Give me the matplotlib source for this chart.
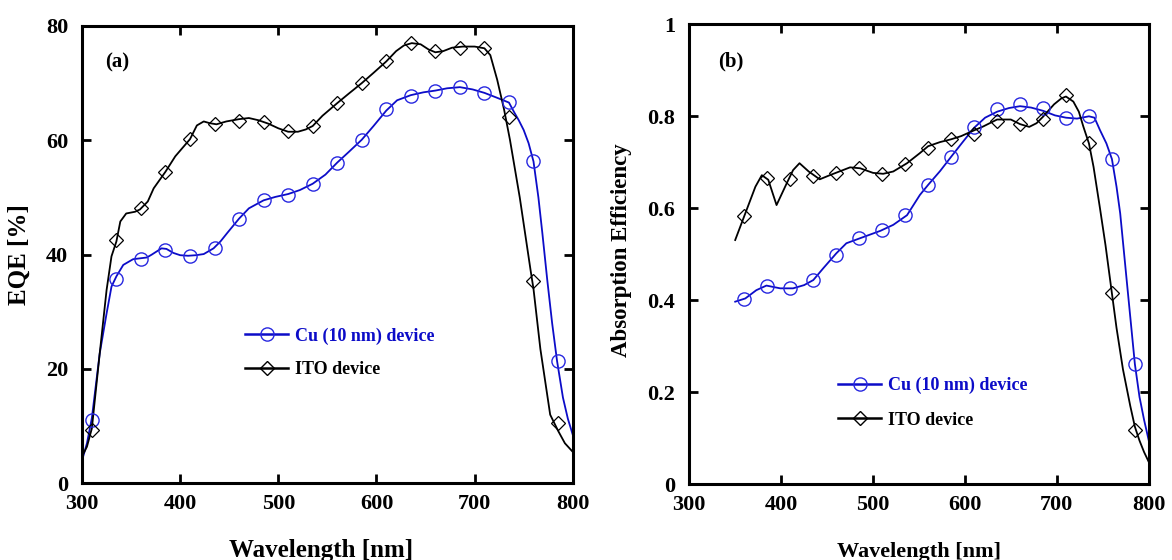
import numpy as np
import matplotlib
matplotlib.use("Agg")
from matplotlib import pyplot as plt
from matplotlib.ticker import FormatStrFormatter

plt.rcParams['font.family'] = ['Liberation Serif', 'DejaVu Serif']
plt.rcParams['font.weight'] = 'bold'

BLUE = '#0c0cc8'
BLUE_MK = '#2828e0'

# ---- panel (a): EQE ----
# measured points (markers)
wl_pts_a = [310, 335, 360, 385, 410, 435, 460, 485, 510, 535,
            560, 585, 610, 635, 660, 685, 710, 735, 760, 785]
cu_eqe_pts = [11.0, 35.8, 39.2, 40.8, 39.8, 41.1, 46.3, 49.5, 50.5, 52.3,
              56.1, 60.0, 65.5, 67.7, 68.6, 69.4, 68.3, 66.7, 56.3, 21.4]
ito_eqe_pts = [9.4, 42.5, 48.1, 54.5, 60.2, 62.8, 63.4, 63.2, 61.7, 62.5,
               66.5, 70.0, 73.8, 77.1, 75.7, 76.1, 76.1, 64.0, 35.3, 10.6]

# smooth curves
wl_cu_a = [300, 305, 310, 318, 325, 330, 335, 342, 352, 366, 371, 381, 386, 393,
           400, 408, 416, 424, 434, 441, 448, 460, 470, 485, 497, 510, 522, 535,
           548, 560, 572, 585, 597, 610, 621, 635, 648, 660, 672, 685, 698, 710,
           722, 735, 740, 745, 750, 755, 760, 765, 769, 774, 779, 784, 790, 795, 800]
cu_eqe = [4.0, 7.0, 11.4, 22.7, 29.7, 34.4, 36.2, 38.2, 39.2, 39.5, 40.0, 41.1, 41.0, 40.3,
          39.9, 39.8, 39.9, 40.1, 41.1, 42.3, 43.8, 46.3, 48.1, 49.5, 50.1, 50.6, 51.3, 52.4,
          54.0, 56.1, 58.0, 60.1, 62.5, 65.2, 67.0, 67.9, 68.4, 68.7, 69.1, 69.3, 68.9, 68.3,
          67.5, 66.6, 65.0, 63.5, 61.8, 59.5, 56.3, 50.0, 43.8, 35.6, 28.0, 21.4, 15.0, 11.3, 8.5]

wl_ito_a = [300, 305, 310, 318, 325, 330, 335, 339, 345, 354, 359, 367, 373, 385,
            395, 410, 417, 424, 430, 437, 447, 460, 470, 480, 490, 500, 510, 520,
            528, 535, 545, 560, 572, 585, 597, 610, 620, 628, 636, 645, 653, 660,
            668, 677, 688, 700, 710, 716, 723, 730, 736, 746, 757, 760, 767, 777,
            785, 792, 800]
ito_eqe = [4.7, 6.4, 9.6, 22.7, 33.8, 39.7, 42.3, 45.8, 47.2, 47.5, 47.9, 49.3, 51.6, 54.5,
           57.2, 60.2, 62.6, 63.3, 63.0, 62.8, 63.3, 63.7, 63.9, 63.5, 62.9, 62.1, 61.5, 61.5,
           61.9, 62.5, 64.3, 66.5, 68.2, 70.0, 71.8, 73.8, 75.6, 76.6, 77.0, 76.8, 75.9, 75.4,
           75.6, 76.2, 76.4, 76.4, 76.1, 74.9, 70.6, 65.4, 60.1, 50.0, 37.3, 34.0, 23.5, 12.0,
           9.2, 7.0, 5.5]

# ---- panel (b): absorption efficiency ----
wl_pts_b = [360, 385, 410, 435, 460, 485, 510, 535, 560, 585,
            610, 635, 660, 685, 710, 735, 760, 785]
cu_abs_pts = [0.403, 0.431, 0.426, 0.445, 0.498, 0.535, 0.553, 0.585, 0.651, 0.712,
              0.777, 0.815, 0.826, 0.817, 0.797, 0.800, 0.707, 0.261]
ito_abs_pts = [0.584, 0.665, 0.664, 0.671, 0.676, 0.687, 0.675, 0.696, 0.732, 0.750,
               0.761, 0.790, 0.783, 0.794, 0.846, 0.741, 0.415, 0.118]

wl_cu_b = [350, 361, 373, 384, 399, 413, 425, 435, 446, 460, 471, 486, 508, 522,
           537, 551, 560, 573, 585, 598, 610, 622, 635, 648, 660, 672, 685, 698,
           710, 722, 735, 741, 747, 754, 760, 765, 769, 776, 785, 790, 795, 800]
cu_abs = [0.397, 0.404, 0.422, 0.432, 0.426, 0.426, 0.433, 0.444, 0.470, 0.502, 0.524,
          0.535, 0.551, 0.564, 0.585, 0.629, 0.651, 0.681, 0.712, 0.745, 0.775, 0.797,
          0.810, 0.818, 0.822, 0.819, 0.812, 0.802, 0.797, 0.795, 0.800, 0.797, 0.770,
          0.741, 0.707, 0.647, 0.589, 0.445, 0.261, 0.190, 0.140, 0.096]

wl_ito_b = [350, 361, 372, 379, 386, 395, 406, 413, 420, 430, 442, 453, 475, 486,
            500, 511, 522, 537, 551, 560, 573, 585, 596, 606, 620, 635, 650, 660,
            670, 678, 685, 697, 705, 710, 718, 724, 729, 735, 740, 747, 753, 758,
            765, 772, 780, 785, 790, 795, 800]
ito_abs = [0.531, 0.589, 0.647, 0.672, 0.662, 0.607, 0.654, 0.683, 0.698, 0.680, 0.663,
           0.672, 0.689, 0.687, 0.677, 0.675, 0.680, 0.698, 0.720, 0.735, 0.744, 0.750,
           0.757, 0.766, 0.778, 0.793, 0.793, 0.783, 0.777, 0.785, 0.799, 0.826, 0.839,
           0.843, 0.832, 0.810, 0.777, 0.741, 0.690, 0.600, 0.520, 0.445, 0.340, 0.250,
           0.170, 0.125, 0.095, 0.070, 0.049]

wl_ticks = [300, 400, 500, 600, 700, 800]

fig = plt.figure(figsize=(11.72, 5.6), dpi=100)
ax1 = fig.add_axes([0.070, 0.137, 0.4187, 0.8166])
ax2 = fig.add_axes([0.5881, 0.1352, 0.3920, 0.8214])


def style(ax, lab_size):
    for s in ax.spines.values():
        s.set_linewidth(2.2)
    ax.tick_params(direction='in', length=6.5, width=2, top=True, right=True,
                   labelsize=lab_size, pad=8)
    ax.tick_params(axis='y', pad=10)
    ax.set_xlim(300, 800)
    ax.set_xticks(wl_ticks)


# panel (a)
ax1.plot(wl_cu_a, cu_eqe, color=BLUE, lw=1.3)
ax1.plot(wl_ito_a, ito_eqe, color='black', lw=1.3)
ax1.plot(wl_pts_a, cu_eqe_pts, 'o', mfc='none', mec=BLUE_MK, mew=1.0, ms=9.5)
ax1.plot(wl_pts_a, ito_eqe_pts, 'D', mfc='none', mec='black', mew=0.9, ms=7)
h1 = ax1.plot([], [], color=BLUE, lw=1.8, marker='o', mfc='none', mec=BLUE_MK, ms=9.5)[0]
h2 = ax1.plot([], [], color='black', lw=1.8, marker='D', mfc='none', mec='black', ms=7)[0]
style(ax1, 16)
ax1.set_ylim(0, 80)
ax1.set_yticks([0, 20, 40, 60, 80])
ax1.set_xlabel('Wavelength [nm]', fontsize=18, fontweight='bold')
ax1.set_ylabel('EQE [%]', fontsize=18, fontweight='bold')
ax1.xaxis.set_label_coords(0.487, -0.122)
ax1.yaxis.set_label_coords(-0.105, 0.5)
ax1.text(0.047, 0.921, '(a)', transform=ax1.transAxes, fontsize=15,
         fontweight='bold', va='center')
leg1 = ax1.legend([h1, h2], ['Cu (10 nm) device', 'ITO device'], frameon=False,
                  loc='upper left', bbox_to_anchor=(0.332, 0.341), fontsize=13,
                  handlelength=2.4, handletextpad=0.35, labelspacing=0.9,
                  borderpad=0, borderaxespad=0)
leg1.get_texts()[0].set_color(BLUE)

# panel (b)
ax2.plot(wl_cu_b, cu_abs, color=BLUE, lw=1.3)
ax2.plot(wl_ito_b, ito_abs, color='black', lw=1.3)
ax2.plot(wl_pts_b, cu_abs_pts, 'o', mfc='none', mec=BLUE_MK, mew=1.0, ms=9.5)
ax2.plot(wl_pts_b, ito_abs_pts, 'D', mfc='none', mec='black', mew=0.9, ms=7)
h3 = ax2.plot([], [], color=BLUE, lw=1.8, marker='o', mfc='none', mec=BLUE_MK, ms=9.5)[0]
h4 = ax2.plot([], [], color='black', lw=1.8, marker='D', mfc='none', mec='black', ms=7)[0]
style(ax2, 16)
ax2.set_ylim(0, 1)
ax2.set_yticks([0, 0.2, 0.4, 0.6, 0.8, 1.0])
ax2.yaxis.set_major_formatter(FormatStrFormatter('%g'))
ax2.set_xlabel('Wavelength [nm]', fontsize=16, fontweight='bold')
ax2.set_ylabel('Absorption Efficiency', fontsize=16.5, fontweight='bold')
ax2.xaxis.set_label_coords(0.5, -0.126)
ax2.yaxis.set_label_coords(-0.125, 0.51)
ax2.text(0.0625, 0.92, '(b)', transform=ax2.transAxes, fontsize=15,
         fontweight='bold', va='center')
leg2 = ax2.legend([h3, h4], ['Cu (10 nm) device', 'ITO device'], frameon=False,
                  loc='upper left', bbox_to_anchor=(0.324, 0.233), fontsize=13,
                  handlelength=2.4, handletextpad=0.35, labelspacing=0.95,
                  borderpad=0, borderaxespad=0)
leg2.get_texts()[0].set_color(BLUE)

fig.savefig('out.png', dpi=100)
